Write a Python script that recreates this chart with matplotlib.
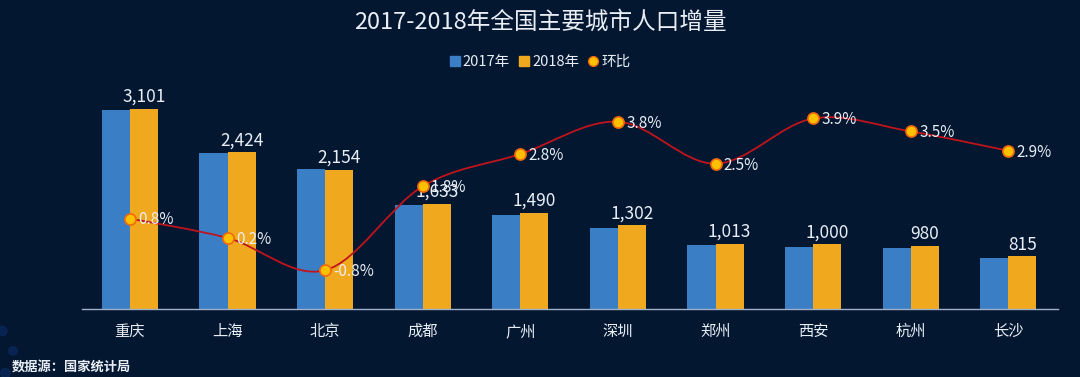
import numpy as np
import matplotlib.pyplot as plt
from matplotlib.path import Path
from matplotlib.patches import PathPatch, Patch, Ellipse
from matplotlib.lines import Line2D

plt.rcParams['font.family'] = ['Noto Sans CJK SC', 'DejaVu Sans']

cities = ['重庆', '上海', '北京', '成都', '广州', '深圳', '郑州', '西安', '杭州', '长沙']
pop_2017 = [3076, 2418, 2171, 1604, 1450, 1253, 988, 962, 947, 792]
pop_2018 = [3101, 2424, 2154, 1633, 1490, 1302, 1013, 1000, 980, 815]
growth = [0.8, 0.2, -0.8, 1.8, 2.8, 3.8, 2.5, 3.9, 3.5, 2.9]

BG = '#041731'
BLUE = '#3A7EC6'
ORANGE = '#F0A91E'
LINE = '#C0141C'
TXT = '#E9EEF5'


def smooth_path(x, y):
    # Catmull-Rom segments as cubic Bezier (like a spreadsheet "smoothed line")
    pts = np.column_stack([x, y]).astype(float)
    n = len(pts)
    verts = [pts[0]]
    codes = [Path.MOVETO]
    for i in range(n - 1):
        p0 = pts[i - 1] if i > 0 else pts[i]
        p1 = pts[i]
        p2 = pts[i + 1]
        p3 = pts[i + 2] if i + 2 < n else pts[i + 1]
        c1 = p1 + (p2 - p0) / 6.0
        c2 = p2 - (p3 - p1) / 6.0
        verts += [c1, c2, p2]
        codes += [Path.CURVE4] * 3
    return Path(verts, codes)


fig = plt.figure(figsize=(10.8, 3.77), dpi=100, facecolor=BG)
ax = fig.add_axes([0.076, 0.1804, 0.9037, 0.5995])
ax.set_facecolor('none')

x = np.arange(len(cities))
w = 0.287
ax.bar(x - w / 2, pop_2017, w, color=BLUE, zorder=2)
ax.bar(x + w / 2, pop_2018, w, color=ORANGE, zorder=2)
for xi, v in zip(x, pop_2018):
    ax.annotate(f'{v:,}', (xi + w / 2, v), xytext=(0, 2), textcoords='offset points',
                ha='center', va='bottom', color=TXT, fontsize=12.5, zorder=3)

ax.set_xlim(-0.49, 9.51)
ax.set_ylim(0, 3500)
ax.set_yticks([])
ax.set_xticks(x)
ax.set_xticklabels(cities, color=TXT, fontsize=11)
ax.tick_params(axis='x', length=0, pad=10)
for s in ['top', 'right', 'left']:
    ax.spines[s].set_visible(False)
ax.spines['bottom'].set_color('#9FB0C8')
ax.spines['bottom'].set_linewidth(1.0)

ax2 = ax.twinx()
ax2.set_ylim(-2.0, 5.0)
ax2.set_yticks([])
for s in ax2.spines.values():
    s.set_visible(False)
ax2.add_patch(PathPatch(smooth_path(x, growth), facecolor='none', edgecolor=LINE,
                        lw=1.3, zorder=3))
ax2.plot(x, growth, 'o', ms=8, mfc='#FFC000', mec='#F26A0C', mew=1.2, zorder=4)
for xi, g in zip(x, growth):
    ax2.annotate(f'{g}%', (xi, g), xytext=(6, -1), textcoords='offset points',
                 ha='left', va='center', color=TXT, fontsize=11, zorder=5)

fig.text(0.5, 0.94, '2017-2018年全国主要城市人口增量', ha='center', va='center',
         color=TXT, fontsize=17)

handles = [Patch(color=BLUE), Patch(color=ORANGE),
           Line2D([], [], ls='none', marker='o', ms=7, mfc='#FFC000', mec='#F26A0C')]
fig.legend(handles, ['2017年', '2018年', '环比'], loc='center', bbox_to_anchor=(0.5, 0.836),
           ncol=3, frameon=False, fontsize=10.5, labelcolor=TXT, handlelength=0.7,
           handleheight=0.7, handletextpad=0.2, columnspacing=0.6)

fig.text(0.011, 0.027, '数据源：国家统计局', ha='left', va='center', color=TXT,
         fontsize=9.5, fontweight='bold')

# faint bokeh dots at lower left
asp = 377 / 1080
for cx, cy, r in [(0.002, 0.122, 0.025), (0.012, 0.069, 0.022), (0.005, 0.01, 0.025)]:
    fig.patches.append(Ellipse((cx, cy), r * asp, r, transform=fig.transFigure,
                               color='#0B2C66', alpha=0.6, zorder=0))

fig.savefig('out.png', dpi=100, facecolor=BG)
